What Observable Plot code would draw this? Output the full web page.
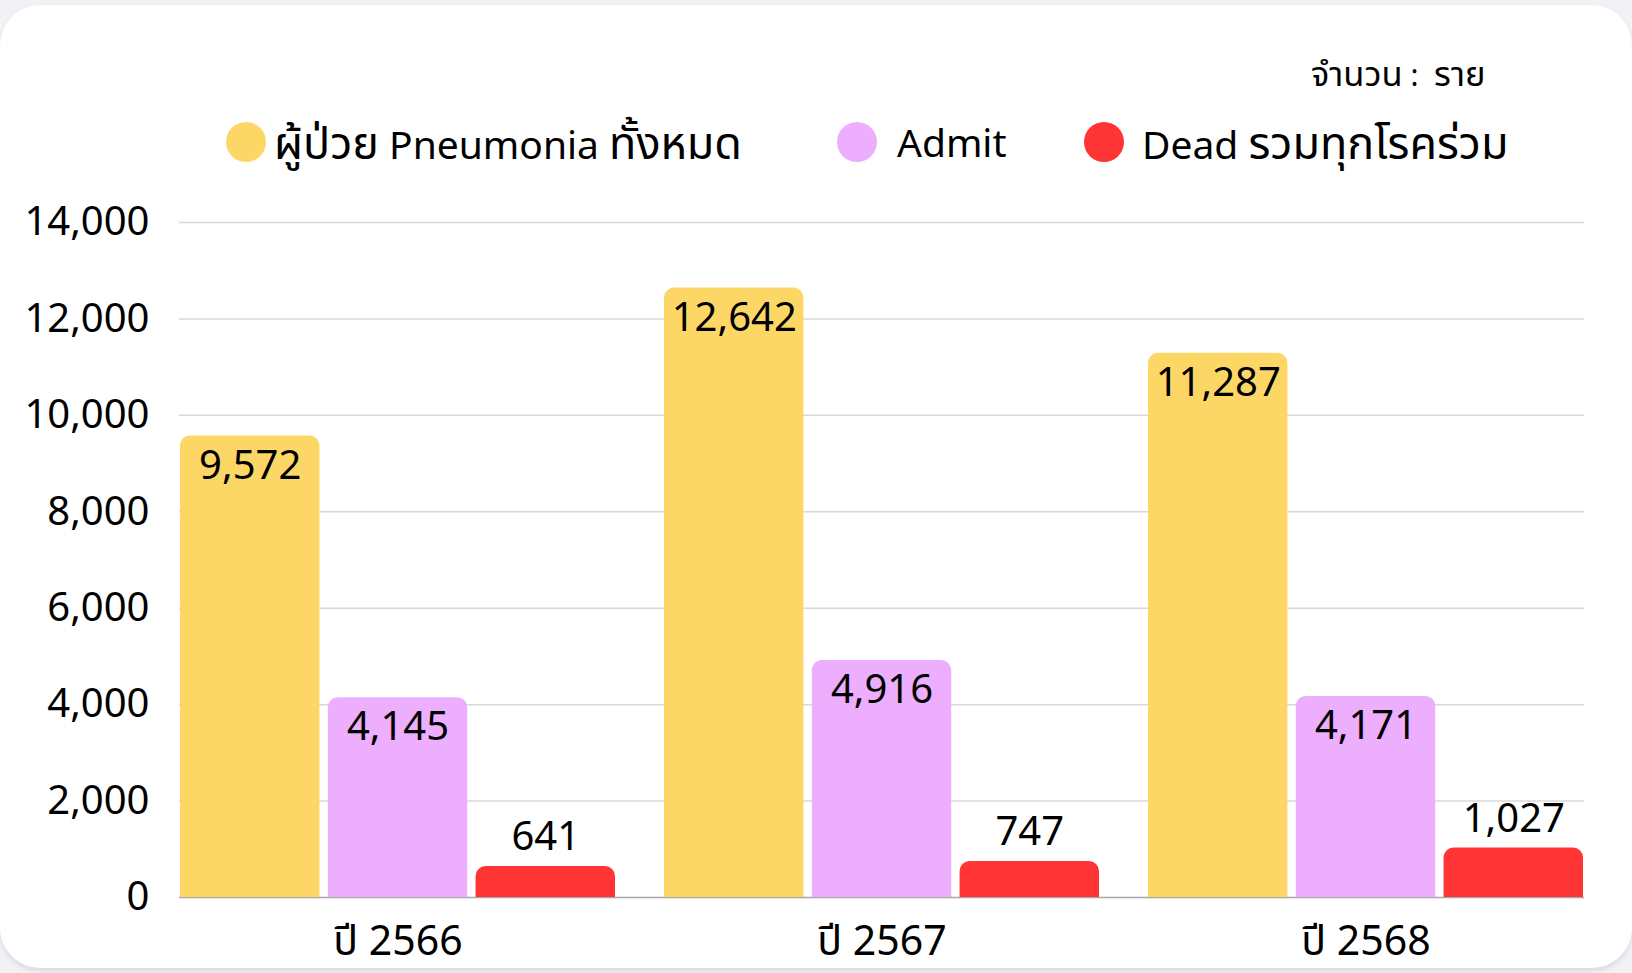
<!DOCTYPE html>
<html>
<head>
<meta charset="utf-8">
<script src="https://cdn.jsdelivr.net/npm/d3@7"></script>
<script src="https://cdn.jsdelivr.net/npm/@observablehq/plot@0.6"></script>
<style>
  html, body { margin: 0; padding: 0; }
  body { width: 1632px; height: 973px; background: #f1f2f6; position: relative; overflow: hidden;
         font-family: "Noto Sans", "Noto Sans Thai", "Noto Sans Thai UI", sans-serif; color: #000; }
  #card { position: absolute; left: 0; top: 5px; width: 1632px; height: 963px; background: #fff;
          border-radius: 40px; box-shadow: 0 3px 5px rgba(0,0,0,0.10); }
  .unit { position: absolute; left: 1311px; top: 53px; font-size: 30px; line-height: 40px; white-space: pre; }
  .th { font-size: 1.15em; }
  .dot { position: absolute; width: 40px; height: 40px; border-radius: 50%; top: 122px; }
  .lab { position: absolute; top: 120px; font-size: 39px; line-height: 44px; white-space: nowrap; }
  #chart { position: absolute; left: 0; top: 185px; }
</style>
</head>
<body>
<div id="card"></div>
<div class="unit"><span class="th">จำนวน</span> :  <span class="th">ราย</span></div>
<div id="legend"></div>
<div id="chart"></div>
<script>
const years = ["ปี 2566", "ปี 2567", "ปี 2568"];
const seriesNames = ["ผู้ป่วย Pneumonia ทั้งหมด", "Admit", "Dead รวมทุกโรคร่วม"];
const pneumonia = [9572, 12642, 11287];
const admit = [4145, 4916, 4171];
const dead = [641, 747, 1027];
const colors = ["#fdd766", "#edaefd", "#ff3434"];
const yTicks = [0, 2000, 4000, 6000, 8000, 10000, 12000, 14000];

const seriesValues = [pneumonia, admit, dead];
const data = years.flatMap((yr, i) =>
  seriesValues.map((arr, j) => ({year: yr, series: seriesNames[j], value: arr[i]}))
);

// Legend (HTML, above the SVG); Thai runs wrapped for sizing
const legendPos = [{dot: 226, text: 274}, {dot: 837, text: 897}, {dot: 1084, text: 1142}];
const legend = document.getElementById("legend");
seriesNames.forEach((name, j) => {
  const d = document.createElement("div");
  d.className = "dot";
  d.style.left = legendPos[j].dot + "px";
  d.style.background = colors[j];
  legend.appendChild(d);
  const t = document.createElement("div");
  t.className = "lab";
  t.style.left = legendPos[j].text + "px";
  name.split(/([\u0E00-\u0E7F]+)/).forEach(part => {
    if (!part) return;
    if (/[\u0E00-\u0E7F]/.test(part)) {
      const s = document.createElement("span");
      s.className = "th";
      s.textContent = part;
      t.appendChild(s);
    } else {
      t.appendChild(document.createTextNode(part));
    }
  });
  legend.appendChild(t);
});

const fmt = d3.format(",");

// band geometry: 3 bars per year group with small gaps
const W = 1632, ML = 179, MR = 48, padInner = 0.102;
const step = (W - ML - MR) / (years.length - padInner);
const band = step * (1 - padInner);
const gap = 8;
const barW = (band - 2 * gap) / 3;

const marks = [
  Plot.ruleY(yTicks.filter(t => t > 0), {stroke: "#d8d8d8", strokeWidth: 1.5}),
  Plot.ruleY([0], {stroke: "#a8a8a8", strokeWidth: 1.5})
];
seriesNames.forEach((name, j) => {
  const rows = data.filter(d => d.series === name);
  const left = j * (barW + gap);
  const right = (2 - j) * (barW + gap);
  marks.push(Plot.barY(rows, {x: "year", y: "value", fill: "series", insetLeft: left, insetRight: right, ry1: 10}));
  const dx = left + barW / 2 - band / 2;
  marks.push(Plot.text(rows, {x: "year", y: "value", text: d => fmt(d.value), dx, dy: j === 2 ? -29 : 30, fontSize: 40, fill: "#000"}));
});
marks.push(Plot.axisY({ticks: yTicks, tickSize: 0, tickPadding: 30, tickFormat: fmt, fontSize: 40, label: null}));
marks.push(Plot.axisX({anchor: "bottom", tickSize: 0, tickPadding: 28, fontSize: 41, label: null}));

const chart = Plot.plot({
  width: W,
  height: 783,
  marginLeft: ML,
  marginRight: MR,
  marginTop: 37,
  marginBottom: 71,
  style: {fontFamily: '"Noto Sans", "Noto Sans Thai", sans-serif', fontSize: "40px", color: "#000", background: "transparent", overflow: "visible"},
  x: {domain: years, paddingInner: padInner, paddingOuter: 0, label: null},
  y: {domain: [0, 14000], label: null},
  color: {domain: seriesNames, range: colors},
  marks
});
document.getElementById("chart").appendChild(chart);
</script>
</body>
</html>
